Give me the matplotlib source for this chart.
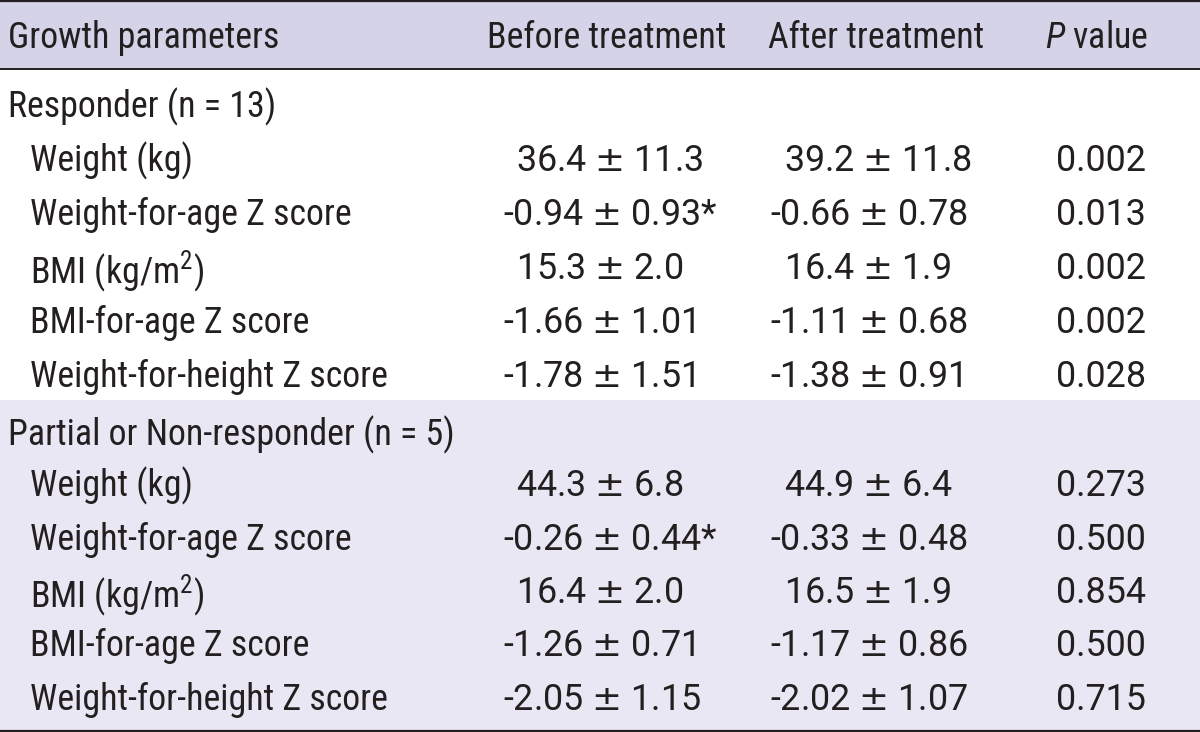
import matplotlib
matplotlib.use("Agg")
import matplotlib.pyplot as plt
from matplotlib import font_manager as fm
from matplotlib.patches import Rectangle

available = {f.name for f in fm.fontManager.ttflist}
candidates = ['Roboto Condensed', 'Archivo Narrow', 'PT Sans Narrow',
              'IBM Plex Sans Condensed', 'Open Sans Condensed']
font = next((c for c in candidates if c in available), 'DejaVu Sans')
numfont = 'Roboto' if 'Roboto' in available else font
plt.rcParams['font.family'] = [font, 'DejaVu Sans']
plt.rcParams['mathtext.fontset'] = 'custom'
plt.rcParams['mathtext.rm'] = font
plt.rcParams['mathtext.it'] = font + ':italic'
plt.rcParams['mathtext.sf'] = 'DejaVu Sans'

PM = r" $\mathsf{\pm}$ "
headers = ["Growth parameters", "Before treatment", "After treatment", "$\\mathit{P}$ value"]
groups = ["Responder (n = 13)", "Partial or Non-responder (n = 5)"]
params = ["Weight (kg)", "Weight-for-age Z score", "BMI (kg/m$^2$)",
          "BMI-for-age Z score", "Weight-for-height Z score"]
before = [
    ["36.4 ± 11.3", "-0.94 ± 0.93*", "15.3 ± 2.0", "-1.66 ± 1.01", "-1.78 ± 1.51"],
    ["44.3 ± 6.8", "-0.26 ± 0.44*", "16.4 ± 2.0", "-1.26 ± 0.71", "-2.05 ± 1.15"],
]
after = [
    ["39.2 ± 11.8", "-0.66 ± 0.78", "16.4 ± 1.9", "-1.11 ± 0.68", "-1.38 ± 0.91"],
    ["44.9 ± 6.4", "-0.33 ± 0.48", "16.5 ± 1.9", "-1.17 ± 0.86", "-2.02 ± 1.07"],
]
pvals = [
    ["0.002", "0.013", "0.002", "0.002", "0.028"],
    ["0.273", "0.500", "0.854", "0.500", "0.715"],
]

W, H = 1200, 732
fig = plt.figure(figsize=(W / 100, H / 100), dpi=100)
ax = fig.add_axes([0, 0, 1, 1])
ax.set_xlim(0, W)
ax.set_ylim(H, 0)
ax.axis('off')

# fit font size so the first header spans its width in the reference (~270 px)
probe = fig.text(0, 0, headers[0], fontsize=20)
r = fig.canvas.get_renderer()
wpx = probe.get_window_extent(r).width
probe.remove()
fs = 20 * 270.0 / wpx

txt = '#231f20'
hdr_bg = '#d4d3e8'
sec_bg = '#e8e7f3'

ax.add_patch(Rectangle((0, 0), W, 68, facecolor=hdr_bg, edgecolor='none'))
ax.add_patch(Rectangle((0, 400), W, 330, facecolor=sec_bg, edgecolor='none'))
for y, lw in [(1, 1.6), (68.5, 1.4), (730.5, 1.6)]:
    ax.plot([0, W], [y, y], color=txt, lw=lw, solid_capstyle='butt')

kw = dict(fontsize=fs, color=txt, va='center_baseline')
nkw = dict(kw, family=[numfont, 'DejaVu Sans'], fontweight='normal')
hy = 34
ax.text(8, hy, headers[0], ha='left', **kw)
ax.text(607, hy, headers[1], ha='center', **kw)
ax.text(876, hy, headers[2], ha='center', **kw)
ax.text(1096, hy, headers[3], ha='center', **kw)

group_y = [103, 431]
row_y = [[157, 211, 265, 319, 373], [482, 536, 589, 642, 696]]

for g in range(2):
    ax.text(8, group_y[g], groups[g], ha='left', **kw)
    for i, p in enumerate(params):
        y = row_y[g][i]
        ax.text(30, y, p, ha='left', **kw)
        b = before[g][i]
        a = after[g][i]
        ax.text(503 if b.startswith('-') else 516, y, b.replace(" ± ", PM), ha='left', **nkw)
        ax.text(770 if a.startswith('-') else 784, y, a.replace(" ± ", PM), ha='left', **nkw)
        ax.text(1101, y, pvals[g][i], ha='center', **nkw)

fig.savefig('out.png', dpi=100)
